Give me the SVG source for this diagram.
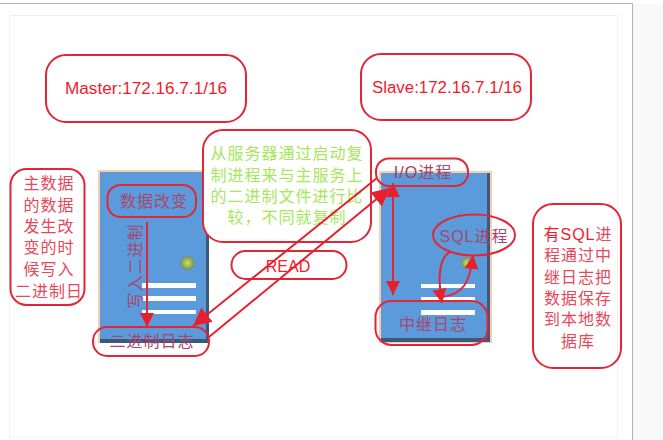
<svg xmlns="http://www.w3.org/2000/svg" width="663" height="440" viewBox="0 0 663 440">
<defs>
<style>
.box{fill:none;stroke:#e32636;stroke-width:2}
.boxw{fill:#fff;stroke:#e32636;stroke-width:2}
.ln{fill:none;stroke:#e8202e;stroke-width:2}
.lnb{fill:none;stroke:#e32636;stroke-width:2}
text{font-family:"Liberation Sans","Noto Sans CJK SC",sans-serif;font-size:16px;text-anchor:middle}
.r{fill:#e8475a;letter-spacing:1px}
.p{fill:#a8466e;letter-spacing:1px}
.g{fill:#a4e85a;letter-spacing:1px}
.lat{fill:#f01c2c;letter-spacing:0}
.bar{fill:#fff}
.srv{fill:#5b9bdb}
.edge{fill:#f7cdb0}
.dark{fill:#3f5878}
</style>
<marker id="ah" viewBox="0 0 10 10" refX="10" refY="5" markerWidth="14" markerHeight="14" markerUnits="userSpaceOnUse" orient="auto-start-reverse"><path d="M0 0L10 5L0 10Z" fill="#e8202e"/></marker>
<marker id="ahl" viewBox="0 0 10 10" refX="10" refY="5" markerWidth="18" markerHeight="18" markerUnits="userSpaceOnUse" orient="auto"><path d="M0 0L10 5L0 10Z" fill="#e8202e"/></marker>
<radialGradient id="led"><stop offset="0" stop-color="#cfe06a"/><stop offset="0.7" stop-color="#8fae4e"/><stop offset="1" stop-color="#6f8a70"/></radialGradient>
</defs>
<rect width="663" height="440" fill="#fff"/>
<rect x="633" y="4" width="30" height="436" fill="#f8f8f8"/>
<path d="M0 3.500H632.500V440" fill="none" stroke="#b4b4b4" stroke-width="1"/>
<path d="M9.500 440V15.500H617.500V437H9.500" fill="none" stroke="#f0f0f0" stroke-width="1"/>

<g id="master-server">
<rect class="edge" x="98" y="170" width="111" height="173"/>
<rect class="dark" x="100" y="172" width="109" height="171"/>
<rect class="srv" x="100" y="172" width="106" height="167"/>
<circle cx="187.500" cy="263" r="7" fill="url(#led)"/>
<rect class="bar" x="142" y="283" width="54" height="5"/>
<rect class="bar" x="142" y="296" width="54" height="5"/>
<rect class="bar" x="142" y="310" width="54" height="4"/>
</g>
<g id="slave-server">
<rect class="edge" x="379" y="171" width="113" height="172"/>
<rect class="dark" x="381" y="173" width="109" height="169"/>
<rect class="srv" x="381" y="173" width="106" height="165"/>
<circle cx="467" cy="263" r="6" fill="url(#led)"/>
<rect class="bar" x="421" y="284" width="54" height="4"/>
<rect class="bar" x="421" y="297" width="54" height="4"/>
<rect class="bar" x="421" y="310" width="54" height="5"/>
</g>

<g id="master-label"><rect class="box" x="46" y="55" width="200" height="67" rx="20"/><text class="lat" x="146" y="94" textLength="162" lengthAdjust="spacingAndGlyphs">Master:172.16.7.1/16</text></g>
<g id="slave-label"><rect class="box" x="361" y="54" width="170" height="66" rx="20"/><text class="lat" x="447" y="93" textLength="150" lengthAdjust="spacingAndGlyphs">Slave:172.16.7.1/16</text></g>
<g id="master-note"><rect class="box" x="10.500" y="169" width="74" height="136" rx="16"/>
<text class="r" x="49" y="189">主数据</text><text class="r" x="49" y="211">的数据</text><text class="r" x="49" y="232">发生改</text><text class="r" x="49" y="253">变的时</text><text class="r" x="49" y="275">候写入</text><text class="r" x="49" y="297">二进制日</text></g>
<g id="data-change"><rect class="box" x="107.500" y="185" width="88.500" height="32" rx="13"/><text class="p" x="154" y="207">数据改变</text></g>
<g id="write-binlog"><text class="p" transform="translate(141 266) rotate(-90)" x="0" y="0">写入二进制</text></g>
<g id="binlog"><rect class="box" x="93" y="327" width="116" height="29" rx="14"/><text class="p" x="152" y="347">二进制日志</text></g>
<g id="copy-note"><rect class="boxw" x="203" y="130" width="168" height="112" rx="20"/>
<text class="g" x="287" y="159">从服务器通过启动复</text><text class="g" x="287" y="181">制进程来与主服务上</text><text class="g" x="287" y="202">的二进制文件进行比</text><text class="g" x="287" y="223">较，不同就复制</text></g>
<g id="read"><rect class="box" x="231.500" y="251" width="115" height="28" rx="14"/></g>
<g id="io-process"><rect class="box" x="376" y="158.500" width="92" height="27.500" rx="13"/><text class="p" x="423" y="178"><tspan fill="#a03c5c">I/O</tspan>进程</text></g>
<g id="sql-process"><ellipse class="box" cx="474" cy="235" rx="41" ry="20.500"/><text class="p" x="474" y="242">SQL进程</text></g>
<g id="relay-log"><rect class="box" x="375.500" y="301" width="112" height="44" rx="16"/><text class="p" x="433" y="330">中继日志</text></g>
<g id="sql-note"><rect class="box" x="533" y="204" width="88" height="164" rx="20"/>
<text class="r" x="578" y="240"><tspan fill="#f01c2c">有SQL</tspan>进</text><text class="r" x="578" y="261">程通过中</text><text class="r" x="578" y="283">继日志把</text><text class="r" x="578" y="304">数据保存</text><text class="r" x="578" y="325">到本地数</text><text class="r" x="578" y="347">据库</text></g>

<g id="connectors">
<path class="lnb" d="M147 222V327" marker-end="url(#ah)"/>
<path class="ln" d="M377 178L193 326" marker-end="url(#ahl)"/>
<path class="ln" d="M209 337L390 188" marker-end="url(#ahl)"/>
<path class="lnb" d="M393 183L393 295" marker-start="url(#ah)" marker-end="url(#ah)"/>
<path class="lnb" d="M450 252C438 258 438 282 442 303" marker-end="url(#ah)"/>
<path class="lnb" d="M442 297C464 294 470 282 473 255" marker-end="url(#ah)"/>
</g>
<g id="read-label"><text class="lat" x="288" y="272">READ</text></g>
</svg>
